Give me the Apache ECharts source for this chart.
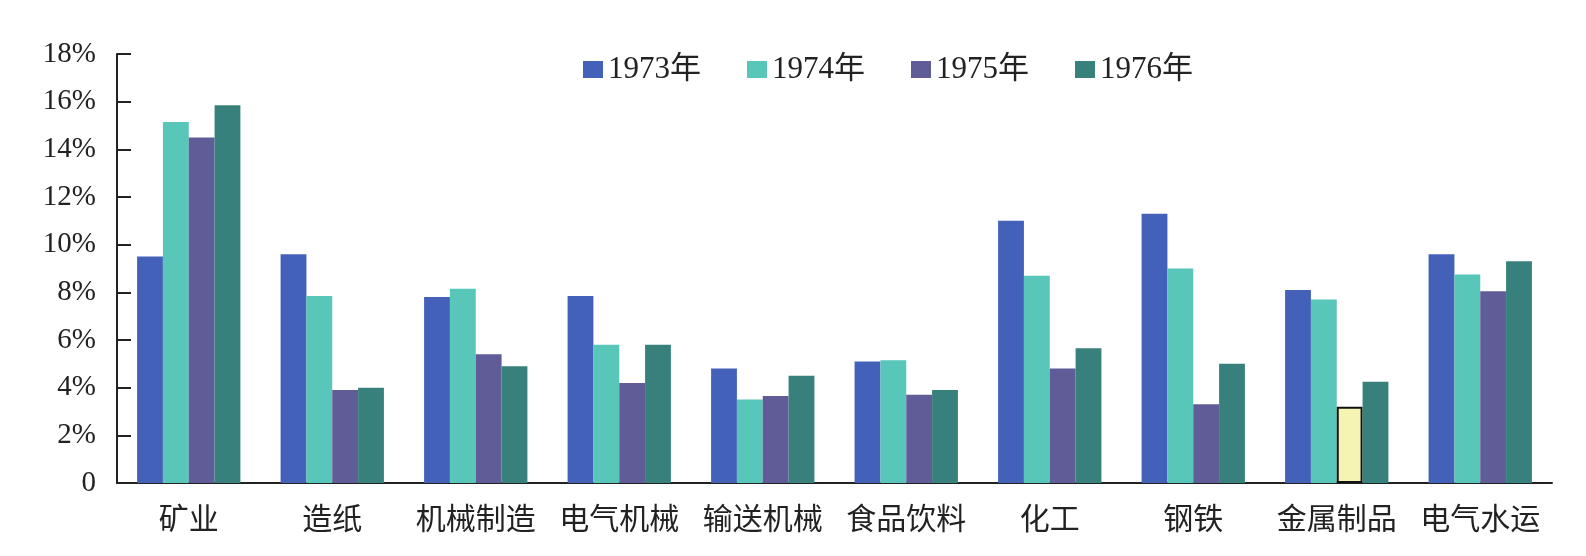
<!DOCTYPE html>
<html>
<head>
<meta charset="utf-8">
<script src="https://cdn.jsdelivr.net/npm/echarts@6/dist/echarts.min.js"></script>
<style>
html, body { margin: 0; padding: 0; background: #fff; }
#main { width: 1586px; height: 556px; }
</style>
</head>
<body>
<div id="main"></div>
<script>
var categories = ['矿业', '造纸', '机械制造', '电气机械', '输送机械', '食品饮料', '化工', '钢铁', '金属制品', '电气水运'];
var years = ['1973年', '1974年', '1975年', '1976年'];
var data1973 = [9.5, 9.6, 7.8, 7.85, 4.8, 5.1, 11.0, 11.3, 8.1, 9.6];
var data1974 = [15.15, 7.85, 8.15, 5.8, 3.5, 5.15, 8.7, 9.0, 7.7, 8.75];
var data1975 = [14.5, 3.9, 5.4, 4.2, 3.65, 3.7, 4.8, 3.3, 3.2, 8.05];
var data1976 = [15.85, 4.0, 4.9, 5.8, 4.5, 3.9, 5.65, 5.0, 4.25, 9.3];
var colors = ['#4361b9', '#58c6b9', '#5f5c97', '#37807b'];

var fontFamily = '"Liberation Serif", "Noto Sans CJK SC", serif';

var myChart = echarts.init(document.getElementById('main'));

// 金属制品 1975 单独高亮
var d1975 = data1975.map(function (v, i) {
    if (categories[i] === '金属制品') {
        return {
            value: v,
            itemStyle: { color: '#f6f4b2', borderColor: '#111', borderWidth: 2 }
        };
    }
    return v;
});

function bar(name, data, color) {
    return {
        name: name,
        type: 'bar',
        data: data,
        barGap: '0%',
        barCategoryGap: '28%',
        itemStyle: { color: color },
        emphasis: { disabled: true }
    };
}

option = {
    animation: false,
    color: colors,
    legend: {
        left: 578,
        top: 49,
        itemWidth: 20,
        itemHeight: 17,
        itemGap: 46,
        icon: 'rect',
        textStyle: { fontSize: 31, color: '#222', fontFamily: fontFamily },
        data: years
    },
    grid: {
        left: 117,
        right: 34,
        top: 54,
        bottom: 73
    },
    xAxis: {
        type: 'category',
        data: categories,
        axisLine: { lineStyle: { color: '#222', width: 2 } },
        axisTick: { inside: true, length: 8, lineStyle: { color: '#222', width: 2 } },
        axisLabel: { fontSize: 30, color: '#222', margin: 23, fontFamily: fontFamily, interval: 0 }
    },
    yAxis: {
        type: 'value',
        min: 0,
        max: 18,
        interval: 2,
        splitLine: { show: false },
        axisLine: { show: true, lineStyle: { color: '#222', width: 2 } },
        axisTick: { show: true, inside: true, length: 14, lineStyle: { color: '#222', width: 2 } },
        axisLabel: {
            fontSize: 29,
            color: '#222',
            margin: 21,
            fontFamily: fontFamily,
            formatter: function (v) { return v === 0 ? '0' : v + '%'; }
        }
    },
    series: [
        bar(years[0], data1973, colors[0]),
        bar(years[1], data1974, colors[1]),
        bar(years[2], d1975, colors[2]),
        bar(years[3], data1976, colors[3])
    ]
};
myChart.setOption(option);
</script>
</body>
</html>
